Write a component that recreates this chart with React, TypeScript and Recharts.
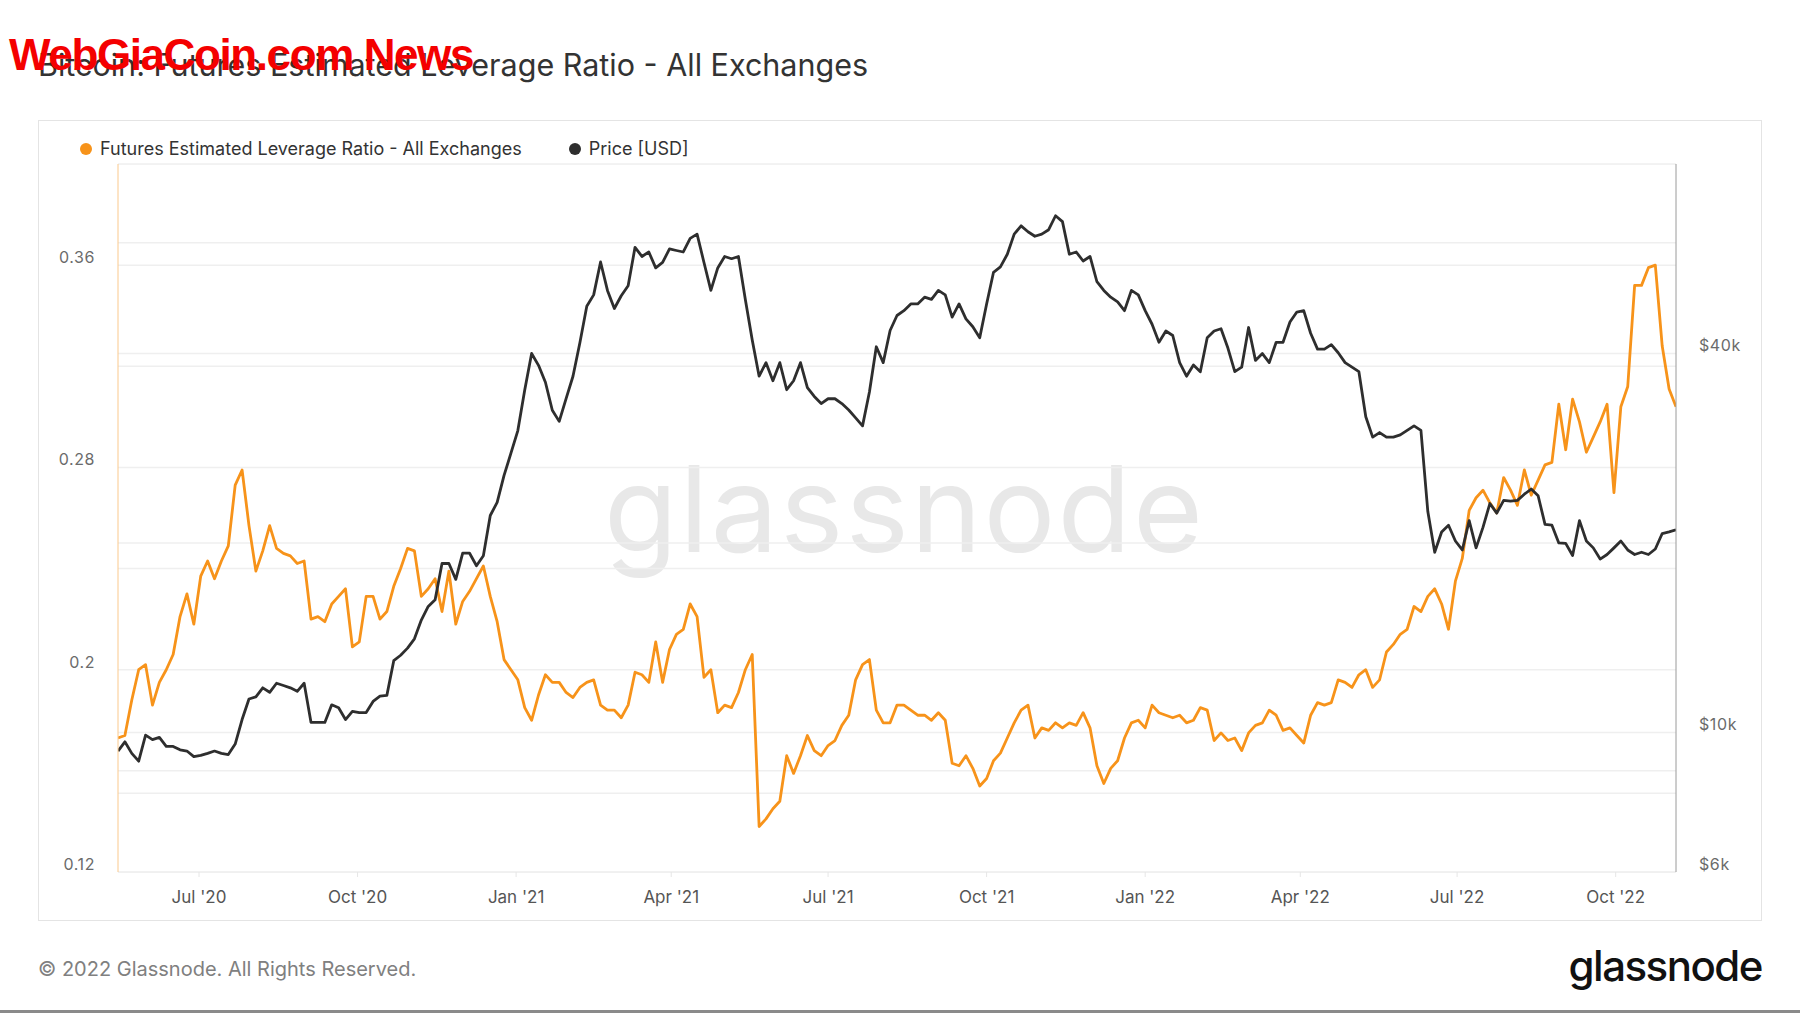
import { Line, LineChart, ReferenceLine, XAxis, YAxis } from "recharts";

// one point every STEP_DAYS days, starting at START_DATE
const START_DATE = "2020-05-15";
const STEP_DAYS = 4;

const leverage = [
  0.173, 0.174, 0.188, 0.2, 0.202, 0.186, 0.195, 0.2, 0.206, 0.221,
  0.23, 0.218, 0.237, 0.243, 0.236, 0.243, 0.249, 0.273, 0.279, 0.257,
  0.239, 0.247, 0.257, 0.248, 0.246, 0.245, 0.242, 0.243, 0.22, 0.221,
  0.219, 0.226, 0.229, 0.232, 0.209, 0.211, 0.229, 0.229,
  0.22, 0.223, 0.233, 0.24, 0.248, 0.247, 0.229, 0.232, 0.236, 0.223,
  0.239, 0.218, 0.227, 0.231, 0.236, 0.241, 0.229, 0.219, 0.204, 0.2,
  0.196, 0.185, 0.18, 0.19, 0.198, 0.195, 0.195, 0.191, 0.189, 0.193,
  0.195, 0.196, 0.186, 0.184, 0.184, 0.181, 0.186, 0.199,
  0.198, 0.195, 0.211, 0.195, 0.208, 0.214, 0.216, 0.226, 0.221, 0.197,
  0.2, 0.183, 0.186, 0.185, 0.191, 0.2, 0.206, 0.138, 0.141, 0.145,
  0.148, 0.166, 0.159, 0.166, 0.174, 0.168, 0.166, 0.17, 0.172, 0.178,
  0.182, 0.196, 0.202, 0.204, 0.184, 0.179, 0.179, 0.186,
  0.186, 0.184, 0.182, 0.182, 0.18, 0.183, 0.18, 0.163, 0.162, 0.166,
  0.161, 0.154, 0.157, 0.164, 0.167, 0.173, 0.179, 0.184, 0.186, 0.173,
  0.177, 0.176, 0.179, 0.177, 0.179, 0.178, 0.183, 0.177, 0.162, 0.155,
  0.161, 0.164, 0.173, 0.179, 0.18, 0.177, 0.186, 0.183,
  0.182, 0.181, 0.182, 0.179, 0.18, 0.185, 0.184, 0.172, 0.175, 0.172,
  0.173, 0.168, 0.175, 0.178, 0.179, 0.184, 0.182, 0.176, 0.177, 0.174,
  0.171, 0.182, 0.187, 0.186, 0.187, 0.196, 0.195, 0.193, 0.198, 0.2,
  0.193, 0.196, 0.207, 0.21, 0.214, 0.216, 0.225,
  0.223, 0.229, 0.232, 0.226, 0.216, 0.235, 0.244, 0.263, 0.268, 0.271,
  0.266, 0.262, 0.276, 0.271, 0.265, 0.279, 0.269, 0.275, 0.281, 0.282,
  0.305, 0.287, 0.307, 0.298, 0.286, 0.292, 0.298, 0.305, 0.27, 0.304,
  0.312, 0.352, 0.352, 0.359, 0.36, 0.328, 0.311, 0.304,
];

const price = [
  9340, 9660, 9260, 9000, 9900, 9740, 9820, 9500, 9500, 9380,
  9340, 9150, 9190, 9260, 9340, 9260, 9220, 9580, 10480, 11300,
  11390, 11770, 11580, 11970, 11870, 11770, 11620, 11970, 10370, 10370,
  10370, 11060, 10940, 10480, 10800, 10750, 10750, 11200,
  11420, 11450, 13000, 13260, 13610, 14080, 15080, 15850, 16250, 18550,
  18550, 17500, 19260, 19260, 18400, 19080, 22110, 23200, 25600, 27780,
  30170, 35000, 40000, 38300, 36000, 32500, 31200, 33900, 36800, 41600,
  47550, 49560, 55900, 50380, 47150, 49400, 51230, 58980,
  57040, 57980, 54700, 55800, 58650, 58300, 57980, 60950, 61900, 55800,
  50380, 54700, 57040, 56570, 57040, 48740, 42010, 36810, 38680, 36200,
  38680, 35030, 36200, 38680, 35300, 34180, 33300, 33890, 33890, 33300,
  32520, 31600, 30690, 34740, 40990, 38680, 43500, 45960,
  46780, 47950, 47950, 49150, 48740, 50380, 49560, 45700, 47950, 45400,
  44100, 42370, 47950, 53830, 54900, 57510, 61900, 63800, 62440, 61420,
  61900, 62900, 66200, 64800, 57510, 57980, 56100, 57040, 52000, 50380,
  49150, 48300, 46780, 50380, 49560, 46780, 44510, 41670,
  43420, 42720, 38680, 36810, 38360, 37420, 42370, 43420, 43780, 40800,
  37420, 38040, 43980, 39000, 39980, 38680, 41670, 41670, 44880, 46550,
  46780, 43070, 40640, 40640, 41320, 40100, 38680, 38040, 37420, 31730,
  29450, 29950, 29450, 29450, 29690, 30190, 30690,
  30190, 22430, 19330, 20820, 21340, 20140, 19490, 21700, 19640, 21170,
  23100, 22300, 23370, 23300, 23370, 23900, 24360, 23770, 21400, 21340,
  20000, 19970, 19100, 21700, 20140, 19640, 18850, 19170, 19640, 20140,
  19490, 19170, 19330, 19170, 19560, 20700, 20820, 20990,
];

const xTicks = [
  "2020-07-01", "2020-10-01", "2021-01-01", "2021-04-01", "2021-07-01",
  "2021-10-01", "2022-01-01", "2022-04-01", "2022-07-01", "2022-10-01",
];
const leftTicks = [0.12, 0.2, 0.28, 0.36];
const leftGrid = [0.16, 0.2, 0.24, 0.28, 0.32, 0.36];
const rightTicks = [6000, 10000, 40000];
const rightGrid = [8000, 10000, 20000, 40000, 60000];

const ORANGE = "#f7931a";
const BLACK = "#2e2e2e";
const FONT = "Inter, 'Noto Sans', sans-serif";
const MONTHS = ["Jan", "Feb", "Mar", "Apr", "May", "Jun", "Jul", "Aug", "Sep", "Oct", "Nov", "Dec"];
const DAY = 86400000;

const t0 = Date.parse(START_DATE);
const data = leverage.map((v, i) => ({
  t: t0 + i * STEP_DAYS * DAY,
  lev: v,
  price: price[i],
}));
const xDomain = [data[0].t, data[data.length - 1].t];

function fmtMonth(t: number) {
  const d = new Date(t);
  return `${MONTHS[d.getUTCMonth()]} '${String(d.getUTCFullYear()).slice(2)}`;
}

// axis labels sit a little above their gridline, like the original
// eslint-disable-next-line @typescript-eslint/no-explicit-any
function SideTick({ x, y, payload, anchor, fmt }: any) {
  return (
    <text
      x={x}
      y={y - 8}
      textAnchor={anchor}
      dominantBaseline="central"
      fill="#6b6b6b"
      fontSize={16}
      letterSpacing={0.6}
      fontFamily={FONT}
    >
      {fmt(payload.value)}
    </text>
  );
}

// eslint-disable-next-line @typescript-eslint/no-explicit-any
function DateTick({ x, y, payload }: any) {
  return (
    <text x={x} y={y} dy="0.71em" textAnchor="middle" fill="#555" fontSize={17} fontFamily={FONT}>
      {fmtMonth(payload.value)}
    </text>
  );
}

export default function App() {
  return (
    <div
      style={{
        position: "absolute",
        left: 0,
        top: 0,
        width: 1800,
        height: 1013,
        background: "#fff",
        overflow: "hidden",
        fontFamily: FONT,
      }}
    >
      <div style={{ position: "absolute", left: 38, top: 46, fontSize: 30.5, color: "#333", whiteSpace: "nowrap" }}>
        Bitcoin: Futures Estimated Leverage Ratio - All Exchanges
      </div>
      <div
        style={{
          position: "absolute",
          left: 9,
          top: 30,
          fontSize: 44,
          fontWeight: 700,
          color: "#f40000",
          fontFamily: "'Liberation Sans Narrow', 'Liberation Sans', sans-serif",
          letterSpacing: -1.4,
          whiteSpace: "nowrap",
        }}
      >
        WebGiaCoin.com News
      </div>

      <div
        style={{
          position: "absolute",
          left: 38,
          top: 120,
          width: 1722,
          height: 799,
          border: "1px solid #e4e4e4",
        }}
      />

      <div
        style={{
          position: "absolute",
          left: 604,
          top: 449,
          fontSize: 120,
          lineHeight: 1,
          color: "#e8e8e8",
          letterSpacing: 2,
          whiteSpace: "nowrap",
        }}
      >
        glassnode
      </div>

      <div style={{ position: "absolute", left: 80, top: 138, display: "flex", alignItems: "center", fontSize: 18, color: "#333" }}>
        <span style={{ width: 12, height: 12, borderRadius: 6, background: ORANGE, marginRight: 8 }} />
        <span>Futures Estimated Leverage Ratio - All Exchanges</span>
        <span style={{ width: 12, height: 12, borderRadius: 6, background: BLACK, marginLeft: 47, marginRight: 8 }} />
        <span>Price [USD]</span>
      </div>

      <div style={{ position: "absolute", left: 0, top: 0 }}>
        <LineChart
          width={1800}
          height={1013}
          data={data}
          margin={{ top: 164, right: 38, bottom: 111, left: 38 }}
        >
          <XAxis
            dataKey="t"
            type="number"
            domain={xDomain}
            ticks={xTicks.map((d) => Date.parse(d))}
            tick={<DateTick />}
            tickSize={5}
            tickMargin={14}
            tickLine={{ stroke: "#e6e6e6" }}
            axisLine={{ stroke: "#e2e2e2" }}
            height={30}
            allowDataOverflow
          />
          <YAxis
            yAxisId="lev"
            orientation="left"
            width={80}
            domain={[0.12, 0.4]}
            ticks={leftTicks}
            tick={<SideTick anchor="end" fmt={(v: number) => String(v)} />}
            tickSize={0}
            tickMargin={23}
            axisLine={{ stroke: "#fbc98c" }}
            allowDataOverflow
          />
          <YAxis
            yAxisId="price"
            orientation="right"
            width={86}
            scale="log"
            domain={[6000, 80000]}
            ticks={rightTicks}
            tick={<SideTick anchor="start" fmt={(v: number) => `$${v / 1000}k`} />}
            tickSize={0}
            tickMargin={23}
            axisLine={{ stroke: "#9a9a9a" }}
            allowDataOverflow
          />
          {leftGrid.map((v) => (
            <ReferenceLine key={`l${v}`} yAxisId="lev" y={v} stroke="#efefef" strokeWidth={1.5} />
          ))}
          {rightGrid.map((v) => (
            <ReferenceLine key={`r${v}`} yAxisId="price" y={v} stroke="#efefef" strokeWidth={1.5} />
          ))}
          <ReferenceLine yAxisId="lev" y={0.4} stroke="#e6e6e6" strokeWidth={1} />
          <Line
            yAxisId="lev"
            dataKey="lev"
            type="linear"
            stroke={ORANGE}
            strokeWidth={2.8}
            strokeLinejoin="round"
            dot={false}
            isAnimationActive={false}
          />
          <Line
            yAxisId="price"
            dataKey="price"
            type="linear"
            stroke={BLACK}
            strokeWidth={2.8}
            strokeLinejoin="round"
            dot={false}
            isAnimationActive={false}
          />
        </LineChart>
      </div>

      <div style={{ position: "absolute", left: 38, top: 957, fontSize: 20, color: "#808080", whiteSpace: "nowrap" }}>
        © 2022 Glassnode. All Rights Reserved.
      </div>
      <div
        style={{
          position: "absolute",
          right: 38,
          top: 940,
          fontSize: 42,
          fontWeight: 500,
          color: "#111",
          letterSpacing: -1.5,
          whiteSpace: "nowrap",
        }}
      >
        glassnode
      </div>
      <div style={{ position: "absolute", left: 0, top: 1010, width: 1800, height: 3, background: "#8a8a8a" }} />
    </div>
  );
}
